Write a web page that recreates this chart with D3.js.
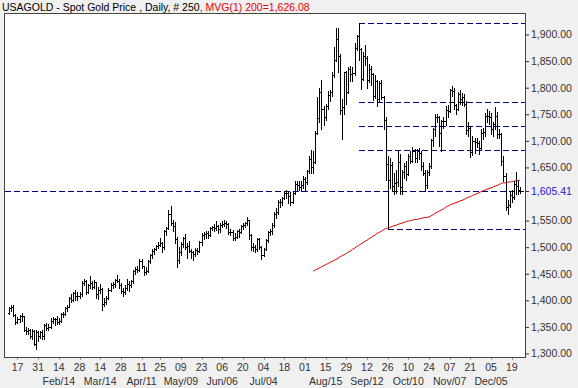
<!DOCTYPE html>
<html><head><meta charset="utf-8">
<script src="https://cdn.jsdelivr.net/npm/d3@7"></script>
<style>
body{margin:0;background:#f0f0f0}
svg{display:block}
text{font-family:"Liberation Sans",Arial,sans-serif}
</style>
</head><body>
<svg id="chart" width="578" height="388"></svg>
<script>
// ---- data (USAGOLD spot gold, daily OHLC, 11 Jan 2011 - 23 Dec 2011) ----
const firstDate = "2011-01-11";
const lastDate = "2011-12-23";
const holidays = ["2011-04-22"];

const opens = [
 1377,1385,1387,1373,1360,1364,1370,1370,1345,1342,1344,1332,1342,1318,1340,
 1333,1340,1332,1353,1348,1350,1362,1364,1364,1360,1362,1375,1375,1385,1388,1405,1400,1413,1408,1409,
 1411,1433,1437,1416,1428,1433,1426,1434,1411,1420,1421,1394,1396,1404,1420,1428,1431,1438,1437,1429,1418,1416,1424,
 1431,1429,1436,1455,1458,1457,1474,1464,1454,1456,1474,1486,1493,1496,1503,1505,1507,1500,1530,1536,
 1563,1545,1540,1515,1475,1490,1506,1517,1500,1502,1493,1490,1487,1495,1493,1509,1523,1525,1526,1523,1536,1538,
 1536,1540,1534,1542,1543,1546,1543,1529,1529,1517,1520,1530,1529,1539,1542,1545,1551,1522,1500,1500,1497,1515,
 1501,1486,1497,1513,1529,1530,1542,1562,1567,1585,1585,1593,1602,1601,1596,1585,1601,1618,1617,1614,1617,
 1628,1622,1643,1665,1650,1660,1714,1743,1792,1760,1745,1765,1786,1792,1823,1852,1892,1860,1758,1763,1829,1792,1835,
 1825,1827,1875,1898,1873,1817,1860,1856,1815,1835,1825,1785,1812,1778,1808,1783,1740,1657,1627,1655,1615,1620,
 1623,1660,1614,1642,1652,1638,1671,1663,1680,1668,1681,1677,1653,1640,1617,1642,1652,1702,1722,1745,1745,
 1714,1737,1738,1758,1757,1795,1793,1767,1760,1788,1779,1782,1770,1720,1724,1679,1700,1697,1696,1686,1714,1716,
 1746,1746,1745,1723,1731,1746,1712,1712,1662,1634,1576,1580,1598,1594,1619,1615,1608
];
const highs = [
 1388,1392,1391,1374,1368,1373,1377,1371,1350,1348,1346,1346,1345,1345,1342,
 1342,1345,1355,1357,1355,1366,1368,1367,1370,1366,1376,1378,1387,1391,1406,1412,1416,1419,1415,1416,
 1436,1441,1438,1431,1445,1436,1438,1435,1426,1430,1424,1404,1408,1423,1432,1434,1440,1447,1440,1433,1424,1428,1440,
 1437,1438,1457,1463,1465,1477,1477,1465,1462,1476,1488,1496,1498,1505,1510,1518,1510,1532,1538,1569,
 1577,1551,1547,1520,1500,1510,1520,1524,1508,1512,1496,1493,1498,1499,1512,1527,1528,1530,1530,1538,1540,1543,
 1549,1542,1546,1550,1552,1549,1546,1535,1532,1526,1533,1535,1542,1545,1548,1557,1552,1525,1507,1504,1518,1518,
 1503,1499,1516,1531,1534,1545,1566,1574,1589,1590,1595,1606,1608,1604,1603,1603,1624,1624,1625,1624,1633,
 1632,1646,1672,1683,1681,1719,1782,1800,1814,1765,1770,1793,1796,1829,1877,1912,1913,1863,1778,1830,1831,1838,1840,
 1838,1884,1900,1921,1875,1868,1880,1860,1845,1840,1828,1823,1814,1812,1815,1785,1745,1672,1668,1660,1640,1645,
 1680,1675,1645,1658,1663,1675,1681,1688,1685,1684,1686,1680,1660,1645,1645,1658,1704,1725,1750,1751,1747,
 1740,1745,1765,1767,1798,1803,1800,1770,1792,1795,1790,1788,1774,1736,1726,1710,1706,1705,1700,1722,1725,1752,
 1760,1757,1752,1735,1764,1755,1722,1714,1672,1640,1589,1605,1607,1625,1642,1625,1613
];
const lows = [
 1374,1380,1370,1355,1358,1360,1362,1342,1336,1336,1330,1328,1316,1308,1323,
 1330,1328,1328,1344,1345,1348,1358,1353,1356,1355,1359,1369,1372,1380,1387,1396,1398,1400,1400,1405,
 1408,1428,1412,1413,1424,1421,1424,1405,1403,1414,1381,1390,1393,1402,1418,1423,1426,1434,1424,1413,1409,1412,1420,
 1418,1425,1432,1450,1453,1456,1460,1448,1450,1454,1471,1479,1488,1494,1499,1503,1490,1497,1522,1535,
 1542,1530,1507,1462,1470,1486,1500,1496,1480,1490,1480,1476,1484,1488,1490,1505,1515,1518,1517,1521,1532,1530,
 1533,1526,1528,1538,1540,1536,1525,1523,1513,1514,1517,1520,1526,1535,1538,1541,1515,1495,1493,1490,1493,1496,
 1478,1484,1494,1510,1522,1525,1538,1555,1563,1575,1580,1590,1592,1584,1580,1583,1600,1608,1607,1606,1612,
 1606,1618,1640,1640,1640,1658,1712,1735,1723,1730,1740,1760,1775,1785,1820,1850,1830,1750,1703,1750,1770,1790,1812,
 1812,1823,1870,1852,1797,1815,1843,1800,1810,1805,1776,1781,1765,1774,1778,1722,1627,1535,1612,1605,1600,1601,
 1615,1600,1600,1630,1626,1636,1659,1660,1660,1660,1665,1645,1635,1605,1612,1635,1648,1690,1710,1735,1690,
 1680,1725,1730,1745,1755,1785,1760,1750,1758,1770,1768,1765,1712,1710,1670,1673,1678,1688,1675,1685,1703,1710,
 1736,1732,1713,1710,1722,1705,1705,1655,1625,1570,1562,1575,1585,1590,1600,1600,1601
];
const closes = [
 1385,1387,1373,1360,1364,1370,1370,1345,1342,1344,1332,1342,1318,1340,1333,
 1340,1332,1353,1348,1350,1362,1364,1364,1360,1362,1375,1375,1385,1388,1405,1400,1413,1408,1409,1411,
 1433,1437,1416,1428,1433,1426,1434,1411,1420,1421,1394,1396,1404,1420,1428,1431,1438,1437,1429,1418,1416,1424,1431,
 1429,1436,1455,1458,1457,1474,1464,1454,1456,1474,1486,1493,1496,1503,1505,1507,1500,1530,1536,1563,
 1545,1540,1515,1475,1490,1506,1517,1500,1502,1493,1490,1487,1495,1493,1509,1523,1525,1526,1523,1536,1538,1536,
 1540,1534,1542,1543,1546,1543,1529,1529,1517,1520,1530,1529,1539,1542,1545,1551,1522,1500,1500,1497,1515,1501,
 1486,1497,1513,1529,1530,1542,1562,1567,1585,1585,1593,1602,1601,1596,1585,1601,1618,1617,1614,1617,1628,
 1622,1643,1665,1650,1660,1714,1743,1792,1760,1745,1765,1786,1792,1823,1852,1892,1860,1758,1763,1829,1792,1835,1825,
 1827,1875,1898,1873,1817,1860,1856,1815,1835,1825,1785,1812,1778,1808,1783,1740,1657,1627,1655,1615,1620,1623,
 1660,1614,1642,1652,1638,1671,1663,1680,1668,1681,1677,1653,1640,1617,1642,1652,1702,1722,1745,1745,1714,
 1737,1738,1758,1757,1795,1793,1767,1760,1788,1779,1782,1770,1720,1724,1679,1700,1697,1696,1686,1714,1716,1746,
 1746,1745,1723,1731,1746,1712,1712,1662,1634,1576,1580,1598,1594,1619,1615,1608,1605.41
];

// 200-day moving average (visible from 5 Aug 2011)
const maStartDate = "2011-08-05";
const maValues = [
 1455,1457,1459,1461,1463,1465,1467,1469,1471,1473,1475,1477,1479,1482,1484,1486,1488,1491,1493,1496,
 1498,1501,1503,1506,1508,1511,1513,1516,1518,1521,1523,1526,1528,1530,1533,1535,
 1536,1537,1539,1540,1541,1543,1544,1545,1547,1548,
 1549,1550,1551,1552,1552,1553,1554,1555,1556,1556,1557,
 1559,1561,1564,1566,1568,1570,1572,1575,1577,1579,
 1581,1582,1584,1585,1587,1588,1590,1592,
 1594,1595,1597,1599,1600,1602,1604,1606,
 1607,1609,1610,1612,1613,1615,1616,1618,1620,
 1621,1621,1622,1623,1623,1624,1625,1625,1626.08
];

// Fibonacci retracement between the Sep 6 high and the Sep 26 low
const fibHighDate = "2011-09-06";
const fibLowDate = "2011-09-26";
const fibRatios = [0, 0.382, 0.5, 0.618, 1];

// axis ticks
const priceTicks = [1300,1350,1400,1450,1500,1550,1650,1700,1750,1800,1850,1900];
const dayTickDates = ["2011-01-17","2011-01-31","2011-02-14","2011-02-28","2011-03-14","2011-03-28",
 "2011-04-11","2011-04-25","2011-05-09","2011-05-23","2011-06-06","2011-06-20","2011-07-04","2011-07-18",
 "2011-08-01","2011-08-15","2011-08-29","2011-09-12","2011-09-26","2011-10-10","2011-10-24","2011-11-07",
 "2011-11-21","2011-12-05","2011-12-19"];
const monthTickDates = ["2011-02-14","2011-03-14","2011-04-11","2011-05-09","2011-06-06","2011-07-04",
 "2011-08-15","2011-09-12","2011-10-10","2011-11-07","2011-12-05"];

const titleMain = "USAGOLD - Spot Gold Price , Daily, # 250";
const titleMa = ", MVG(1) 200=1,626.08";

// ---- build trading dates (weekdays) ----
const fmtKey = d3.timeFormat("%Y-%m-%d");
const parse = d3.timeParse("%Y-%m-%d");
const dates = d3.timeDay.range(parse(firstDate), d3.timeDay.offset(parse(lastDate), 1))
  .filter(d => d.getDay() !== 0 && d.getDay() !== 6)
  .map(fmtKey)
  .filter(k => !holidays.includes(k));

const bars = dates.map((d, i) => ({d, o: opens[i], h: highs[i], l: lows[i], c: closes[i]}));

// ---- layout ----
const W = 578, H = 388;
const plot = {left: 4, right: 525, top: 13, bottom: 357};
const svg = d3.select("#chart");

const x = d3.scalePoint().domain(dates).range([9.2, 520]);
const y = d3.scaleLinear().domain([1300, 1900]).range([353.5, 34.5]);

svg.append("rect").attr("width", W).attr("height", H).attr("fill", "#f0f0f0");
svg.append("rect").attr("x", plot.left + 0.5).attr("y", plot.top + 0.5)
  .attr("width", plot.right - plot.left).attr("height", plot.bottom - plot.top)
  .attr("fill", "#ffffff").attr("stroke", "#46463a").attr("stroke-width", 1)
  .attr("shape-rendering", "crispEdges");

// title
const title = svg.append("text").attr("x", 2).attr("y", 11).attr("font-size", "10.5px");
title.append("tspan").attr("fill", "#000").text(titleMain);
title.append("tspan").attr("fill", "#e00000").text(titleMa);

// right axis
const yAxis = d3.axisRight(y).tickValues(priceTicks).tickSize(4).tickPadding(2)
  .tickFormat(d3.format(",.2f"));
const ya = svg.append("g").attr("transform", `translate(${plot.right},0)`).call(yAxis);
ya.select(".domain").remove();
ya.selectAll("line").attr("stroke", "#333");
ya.selectAll("text").attr("fill", "#333").attr("font-size", "10.5px")
  .attr("font-family", "Liberation Sans, Arial, sans-serif");

// last price label
const last = closes[closes.length - 1];
const lp = svg.append("g").attr("transform", `translate(${plot.right},${Math.round(y(last)) + 0.5})`);
lp.append("line").attr("x1", 0).attr("x2", 4).attr("stroke", "#333");
lp.append("text").attr("x", 6).attr("dy", "0.32em").attr("font-size", "10.5px")
  .attr("fill", "#2020d0").text(d3.format(",.2f")(last));

// bottom axis
const fmtDay = d3.timeFormat("%d"), fmtMon = d3.timeFormat("%b/%d");
const bx = svg.append("g");
bx.selectAll("line.t").data(dayTickDates).join("line")
  .attr("x1", d => Math.round(x(d)) + 0.5).attr("x2", d => Math.round(x(d)) + 0.5)
  .attr("y1", plot.bottom + 1).attr("y2", plot.bottom + 3).attr("stroke", "#999");
bx.selectAll("text.d").data(dayTickDates).join("text")
  .attr("x", d => x(d)).attr("y", 371).attr("text-anchor", "middle")
  .attr("font-size", "10.5px").attr("fill", "#333").text(d => fmtDay(parse(d)));
bx.selectAll("text.m").data(monthTickDates).join("text")
  .attr("x", d => x(d)).attr("y", 385).attr("text-anchor", "middle")
  .attr("font-size", "10.5px").attr("fill", "#333").text(d => fmtMon(parse(d)));

// dashed last-price line
const dash = "6,3";
svg.append("line").attr("x1", plot.left + 1).attr("x2", plot.right)
  .attr("y1", Math.round(y(last)) + 0.5).attr("y2", Math.round(y(last)) + 0.5)
  .attr("stroke", "#000080").attr("stroke-dasharray", dash).attr("shape-rendering", "crispEdges");

// fibonacci lines
const hiIdx = dates.indexOf(fibHighDate), loIdx = dates.indexOf(fibLowDate);
const fHi = highs[hiIdx], fLo = lows[loIdx];
svg.append("g").selectAll("line").data(fibRatios).join("line")
  .attr("x1", r => r === 1 ? x(fibLowDate) : x(fibHighDate))
  .attr("x2", plot.right)
  .attr("y1", r => Math.round(y(fHi - r * (fHi - fLo))) + 0.5)
  .attr("y2", r => Math.round(y(fHi - r * (fHi - fLo))) + 0.5)
  .attr("stroke", "#000080").attr("stroke-dasharray", dash).attr("shape-rendering", "crispEdges");

// moving average
const maStart = dates.indexOf(maStartDate);
const maPts = maValues.map((v, i) => [x(dates[maStart + i]), y(v)]);
svg.append("path").attr("d", d3.line()(maPts)).attr("fill", "none")
  .attr("stroke", "#e00000").attr("stroke-width", 1);

// OHLC bars
const barPath = b => {
  const px = Math.round(x(b.d)) + 0.5;
  const yo = Math.round(y(b.o)) + 0.5, yc = Math.round(y(b.c)) + 0.5;
  return `M${px},${Math.round(y(b.h))}V${Math.round(y(b.l)) + 1}` +
         `M${px - 1.5},${yo}H${px}M${px},${yc}H${px + 1.5}`;
};
svg.append("g").attr("shape-rendering", "crispEdges")
  .selectAll("path").data(bars).join("path")
  .attr("d", barPath).attr("fill", "none").attr("stroke", "#000").attr("stroke-width", 1);
</script>
</body></html>
